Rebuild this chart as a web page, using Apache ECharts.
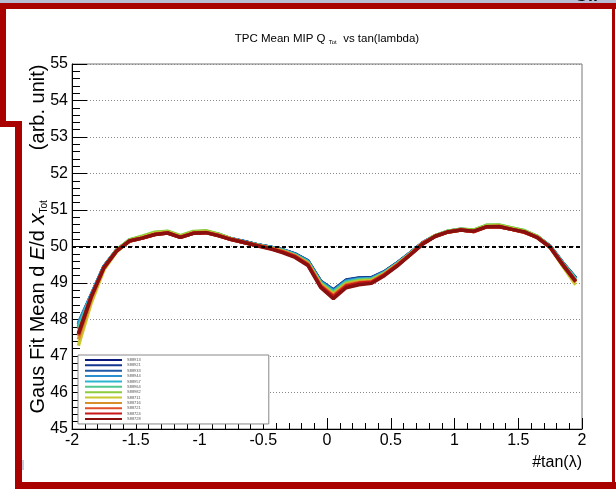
<!DOCTYPE html>
<html><head><meta charset="utf-8">
<script src="https://cdn.jsdelivr.net/npm/echarts@6/dist/echarts.min.js"></script>
<style>html,body{margin:0;padding:0;background:#fff}#c{width:616px;height:489px}</style>
</head><body><div id="c"></div>
<script>
const xCenters = [-1.95,-1.85,-1.75,-1.65,-1.55,-1.45,-1.35,-1.25,-1.15,-1.05,-0.95,-0.85,-0.75,-0.65,-0.55,-0.45,-0.35,-0.25,-0.15,-0.05,0.05,0.15,0.25,0.35,0.45,0.55,0.65,0.75,0.85,0.95,1.05,1.15,1.25,1.35,1.45,1.55,1.65,1.75,1.85,1.95];
const runNames = ["S88913","S88921","S88933","S88944","S88957","S88964","S88982","S88711","S88716","S88721","S88724","S88728"];
const runColors = ["#0a1a7a","#12378f","#1e5aa8","#2a8fd0","#2cb6d0","#50c890","#8ccc3c","#c8c830","#d8902a","#e0502a","#c81818","#8a1010"];
const xTickLabels = ["-2","-1.5","-1","-0.5","0","0.5","1","1.5","2"];
const yTickLabels = ["45","46","47","48","49","50","51","52","53","54","55"];
const refLevel = 50;

const s01 = [47.80,48.64,49.44,49.89,50.16,50.24,50.34,50.38,50.26,50.37,50.40,50.32,50.21,50.13,50.05,49.99,49.91,49.79,49.60,49.04,48.80,49.07,49.13,49.14,49.30,49.54,49.81,50.10,50.29,50.41,50.46,50.42,50.55,50.55,50.48,50.40,50.26,50.00,49.54,49.13];
const s02 = [47.86,48.66,49.45,49.90,50.16,50.25,50.35,50.38,50.27,50.37,50.40,50.32,50.21,50.14,50.05,49.99,49.91,49.80,49.61,49.05,48.81,49.08,49.14,49.15,49.31,49.55,49.82,50.10,50.30,50.42,50.47,50.43,50.56,50.56,50.49,50.41,50.27,50.01,49.55,49.14];
const s03 = [47.90,48.67,49.45,49.90,50.17,50.25,50.35,50.39,50.27,50.38,50.40,50.33,50.21,50.13,50.05,49.98,49.90,49.79,49.60,49.04,48.79,49.06,49.12,49.13,49.30,49.54,49.81,50.09,50.29,50.41,50.46,50.42,50.55,50.56,50.48,50.41,50.26,50.00,49.54,49.12];
const s04 = [47.88,48.66,49.44,49.90,50.16,50.25,50.35,50.38,50.26,50.37,50.40,50.32,50.21,50.13,50.05,49.98,49.90,49.78,49.59,49.03,48.78,49.05,49.11,49.12,49.29,49.53,49.81,50.09,50.29,50.41,50.46,50.42,50.55,50.55,50.48,50.40,50.26,50.00,49.54,49.12];
const s05 = [47.82,48.65,49.44,49.89,50.16,50.25,50.36,50.39,50.27,50.38,50.40,50.32,50.20,50.12,50.04,49.98,49.90,49.77,49.58,49.01,48.76,49.03,49.09,49.11,49.28,49.53,49.80,50.09,50.29,50.41,50.46,50.43,50.56,50.56,50.49,50.41,50.26,49.99,49.53,49.11];
const s06 = [47.72,48.62,49.43,49.90,50.18,50.27,50.38,50.41,50.29,50.40,50.42,50.34,50.21,50.12,50.04,49.97,49.89,49.76,49.56,48.99,48.74,49.01,49.08,49.10,49.27,49.52,49.80,50.09,50.30,50.42,50.47,50.45,50.58,50.58,50.51,50.43,50.28,50.00,49.53,49.10];
const s07 = [47.60,48.58,49.42,49.90,50.18,50.28,50.39,50.42,50.30,50.41,50.43,50.34,50.21,50.12,50.04,49.97,49.88,49.75,49.55,48.98,48.71,48.99,49.06,49.08,49.26,49.51,49.79,50.09,50.30,50.42,50.47,50.45,50.58,50.59,50.51,50.43,50.28,49.99,49.50,49.05];
const s08 = [47.28,48.45,49.36,49.86,50.15,50.25,50.36,50.39,50.27,50.38,50.40,50.31,50.20,50.11,50.03,49.96,49.87,49.74,49.54,48.96,48.69,48.97,49.04,49.07,49.25,49.50,49.78,50.08,50.29,50.40,50.45,50.42,50.55,50.56,50.48,50.40,50.25,49.97,49.46,48.95];
const s09 = [47.45,48.55,49.40,49.87,50.15,50.23,50.34,50.38,50.26,50.37,50.39,50.30,50.20,50.11,50.03,49.96,49.87,49.74,49.53,48.94,48.67,48.95,49.02,49.05,49.24,49.50,49.78,50.08,50.28,50.40,50.45,50.41,50.54,50.55,50.47,50.39,50.25,49.98,49.49,49.02];
const s10 = [47.55,48.60,49.41,49.88,50.15,50.23,50.33,50.37,50.25,50.36,50.38,50.30,50.19,50.11,50.03,49.95,49.86,49.73,49.51,48.92,48.64,48.93,49.00,49.03,49.23,49.49,49.77,50.08,50.28,50.40,50.45,50.41,50.54,50.54,50.47,50.39,50.25,49.98,49.50,49.04];
const s11 = [47.62,48.62,49.42,49.88,50.15,50.23,50.33,50.37,50.25,50.36,50.38,50.30,50.19,50.11,50.03,49.95,49.85,49.72,49.50,48.91,48.62,48.91,48.99,49.02,49.22,49.48,49.77,50.08,50.28,50.40,50.45,50.41,50.54,50.54,50.47,50.39,50.25,49.98,49.51,49.05];
const s12 = [47.60,48.62,49.42,49.88,50.15,50.23,50.33,50.37,50.25,50.36,50.38,50.29,50.19,50.11,50.02,49.94,49.83,49.70,49.48,48.88,48.57,48.87,48.95,48.99,49.20,49.46,49.76,50.06,50.28,50.40,50.45,50.42,50.54,50.55,50.47,50.40,50.24,49.98,49.49,49.04];
const allSeries = [s01,s02,s03,s04,s05,s06,s07,s08,s09,s10,s11,s12];

const FONT = "'Liberation Sans', Arial, sans-serif";
const RED = "#a90000";
const chart = echarts.init(document.getElementById('c'), null, {renderer:'canvas'});

const series = allSeries.map((vals, i) => {
  const s = {
    name: runNames[i],
    type: 'line',
    data: xCenters.map((x, j) => [x, vals[j]]),
    showSymbol: false,
    symbol: 'none',
    lineStyle: {color: runColors[i], width: 3.5},
    itemStyle: {color: runColors[i]},
    silent: true,
    animation: false
  };
  if (i === allSeries.length - 1) {
    s.markLine = {
      silent: true, symbol: ['none','none'], label: {show:false},
      lineStyle: {color:'#000', type:[4,3], width:2},
      data: [{yAxis: refLevel}],
      animation: false
    };
  }
  return s;
});

chart.setOption({
  animation: false,
  backgroundColor: '#fff',
  textStyle: {fontFamily: FONT},
  title: {
    text: 'TPC Mean MIP Q {s|Tot}  vs tan(lambda)',
    left: 327, top: 33, textAlign: 'center', padding: 0,
    textStyle: {fontFamily: FONT, fontSize: 11.5, fontWeight: 'normal', color:'#000',
      rich: {s: {fontFamily: FONT, fontSize: 6, verticalAlign:'bottom', padding:[6,0,0,0], color:'#000'}}}
  },
  grid: {left: 72, right: 34, top: 64, bottom: 60, show: true, borderColor: '#777', borderWidth: 1, backgroundColor: 'transparent', containLabel: false, outerBoundsMode: 'none'},
  legend: {
    orient: 'vertical', left: 78, top: 355,
    padding: [3, 128, 3, 7],
    backgroundColor: '#fff', borderColor: '#888', borderWidth: 1,
    icon: 'rect', itemWidth: 37, itemHeight: 2, itemGap: 1.36,
    textStyle: {fontSize: 4, lineHeight: 4, color: '#555', fontFamily: FONT},
    selectedMode: false,
    data: runNames
  },
  xAxis: {
    type: 'value', min: -2, max: 2, interval: 0.5,
    name: '#tan(λ)', nameLocation: 'end', nameGap: 0,
    nameTextStyle: {fontFamily: FONT, fontSize: 16, color:'#000', align:'right', verticalAlign:'top', padding:[26,0,0,0]},
    axisLine: {show: true, onZero: false, lineStyle: {color:'#000', width:1}},
    axisTick: {show: true, inside: true, length: 11, lineStyle: {color:'#000'}},
    minorTick: {show: true, splitNumber: 5, length: 6, lineStyle: {color:'#000'}},
    splitLine: {show: false},
    axisLabel: {fontFamily: FONT, fontSize: 16, color:'#000', margin: 4,
      formatter: v => xTickLabels[Math.round((v + 2) / 0.5)]}
  },
  yAxis: {
    type: 'value', min: 45, max: 55, interval: 1,
    name: 'Gaus Fit Mean d {i|E}/d {x|x}{s|Tot}         (arb. unit)',
    nameLocation: 'middle', nameRotate: 90, nameGap: 23, nameMoveOverlap: false,
    nameTextStyle: {fontFamily: FONT, fontSize: 20, color:'#000', padding: [0, 0, 0, 15],
      rich: {
        i: {fontFamily: FONT, fontSize: 20, fontStyle: 'italic', color:'#000'},
        x: {fontFamily: FONT, fontSize: 22, fontStyle: 'italic', color:'#000'},
        s: {fontFamily: FONT, fontSize: 10, verticalAlign: 'bottom', color:'#000'}
      }},
    axisLine: {show: true, onZero: false, lineStyle: {color:'#000', width:1}},
    axisTick: {show: true, inside: true, length: 15, lineStyle: {color:'#000'}},
    minorTick: {show: true, splitNumber: 5, length: 8, lineStyle: {color:'#000'}},
    splitLine: {show: true, lineStyle: {color:'#888', type:[1,2], width:1}},
    axisLabel: {fontFamily: FONT, fontSize: 16, color:'#000', margin: 4,
      formatter: v => yTickLabels[Math.round(v - 45)]}
  },
  graphic: [
    {type:'rect', silent:true, z:-10, shape:{x:0,y:0,width:616,height:3}, style:{fill:'#b9bdd4'}},
    {type:'text', silent:true, z:-9, x:574, y:-13, style:{text:'Gll', font:'bold 18px '+FONT, fill:'#111'}},
    {type:'rect', silent:true, z:-8, shape:{x:0,y:3,width:616,height:6}, style:{fill:RED}},
    {type:'rect', silent:true, z:-8, shape:{x:0,y:3,width:6,height:124}, style:{fill:RED}},
    {type:'rect', silent:true, z:-8, shape:{x:0,y:121,width:22,height:6}, style:{fill:RED}},
    {type:'rect', silent:true, z:-8, shape:{x:15,y:121,width:7,height:368}, style:{fill:RED}},
    {type:'rect', silent:true, z:-8, shape:{x:15,y:482,width:601,height:7}, style:{fill:RED}},
    {type:'rect', silent:true, z:-8, shape:{x:612,y:3,width:3,height:486}, style:{fill:RED}},
    {type:'rect', silent:true, z:-8, shape:{x:22,y:460,width:2,height:10}, style:{fill:'#c6cce0'}}
  ],
  series: series
});
</script></body></html>
